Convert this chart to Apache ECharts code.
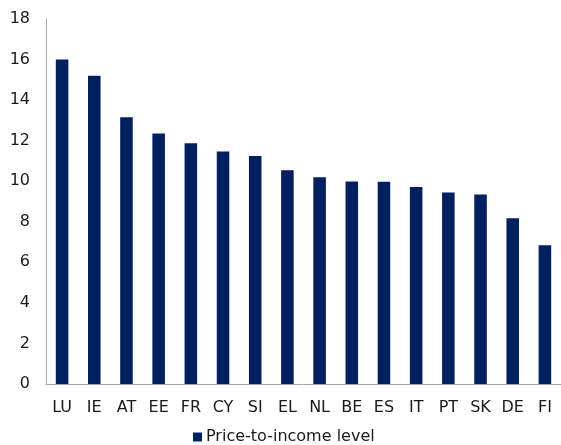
<!DOCTYPE html>
<html><head><meta charset="utf-8">
<script src="https://cdn.jsdelivr.net/npm/echarts@6/dist/echarts.min.js"></script>
<style>html,body{margin:0;padding:0;background:#fff}#c{width:561px;height:445px}</style>
</head><body><div id="c"></div>
<script>
var categories = ["LU","IE","AT","EE","FR","CY","SI","EL","NL","BE","ES","IT","PT","SK","DE","FI"];
var priceToIncome = [16.0,15.2,13.15,12.35,11.87,11.46,11.24,10.54,10.19,9.99,9.98,9.71,9.45,9.34,8.17,6.84];
var yTicks = {min:0, max:18, interval:2};
var seriesName = "Price-to-income level";

var chart = echarts.init(document.getElementById('c'), null, {renderer:'canvas'});
var font = 'DejaVu Sans';
chart.setOption({
  animation:false,
  backgroundColor:'#fff',
  grid:{left:46,right:0,top:19,bottom:61,containLabel:false},
  legend:{show:true,top:429,left:193,itemWidth:9,itemHeight:9,itemGap:4,icon:'rect',padding:0,
    textStyle:{fontFamily:font,fontSize:16,color:'#1a1a1a',padding:[0,0,0,-1]},data:[seriesName]},
  xAxis:{type:'category',data:categories,
    axisLine:{lineStyle:{color:'#a6a6a6',width:1}},axisTick:{show:false},
    axisLabel:{fontFamily:font,fontSize:16,color:'#1a1a1a',margin:16,interval:0}},
  yAxis:{type:'value',min:yTicks.min,max:yTicks.max,interval:yTicks.interval,
    axisLine:{show:true,lineStyle:{color:'#a6a6a6',width:1}},axisTick:{show:false},
    splitLine:{show:false},
    axisLabel:{fontFamily:font,fontSize:16,color:'#1a1a1a',margin:16}},
  series:[{name:seriesName,type:'bar',data:priceToIncome,barWidth:'39%',
    itemStyle:{color:'#002060'}}]
});
</script></body></html>
